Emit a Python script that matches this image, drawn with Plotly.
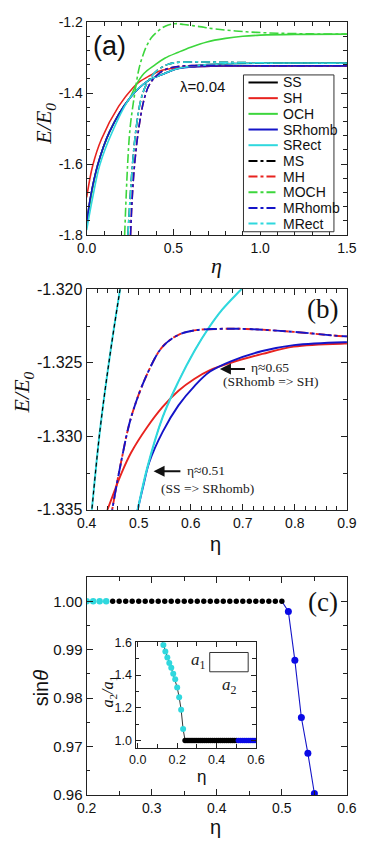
import plotly.graph_objects as go

W, H = 373, 851

# ---------------- panel (a) data ----------------
eta_SS_a = [0.0, 0.022, 0.064, 0.131, 0.249, 0.355, 0.449, 0.498, 0.546, 0.607, 0.697, 0.8, 1.0, 1.2, 1.5]
E_SS_a = [-1.768, -1.694, -1.602, -1.510, -1.414, -1.365, -1.345, -1.335, -1.3287, -1.3242, -1.3200, -1.3175, -1.3160, -1.3156, -1.3155]

eta_SH_a = [0.0, 0.035, 0.085, 0.185, 0.267, 0.30, 0.36, 0.40, 0.44, 0.4855, 0.5158, 0.546, 0.5764, 0.6067, 0.637, 0.677, 0.7376, 0.798, 0.895, 1.1, 1.3, 1.5]
E_SH_a = [-1.694, -1.604, -1.530, -1.437, -1.385, -1.370, -1.352, -1.342, -1.335, -1.3311, -1.3294, -1.3280, -1.3269, -1.3261, -1.3255, -1.3250, -1.3244, -1.3239, -1.3237, -1.3236, -1.3236, -1.3236]

eta_OCH_a = [0.0, 0.064, 0.131, 0.2, 0.249, 0.285, 0.33, 0.39, 0.45, 0.529, 0.6, 0.693, 0.8, 0.9, 1.0, 1.2, 1.5]
E_OCH_a = [-1.768, -1.602, -1.510, -1.448, -1.414, -1.377, -1.345, -1.322, -1.302, -1.285, -1.271, -1.256, -1.246, -1.240, -1.237, -1.2348, -1.2342]

eta_SRhomb_a = [0.0, 0.022, 0.064, 0.131, 0.249, 0.355, 0.449, 0.498, 0.52, 0.546, 0.5764, 0.6067, 0.637, 0.677, 0.7376, 0.798, 0.895, 1.0, 1.2, 1.5]
E_SRhomb_a = [-1.768, -1.694, -1.602, -1.510, -1.414, -1.365, -1.345, -1.335, -1.3318, -1.3297, -1.3279, -1.3266, -1.3256, -1.3249, -1.3242, -1.3238, -1.3236, -1.3235, -1.3234, -1.3234]

eta_SRect_a = [0.0, 0.035, 0.076, 0.149, 0.249, 0.355, 0.449, 0.498, 0.546, 0.607, 0.697, 0.8, 1.0, 1.2, 1.5]
E_SRect_a = [-1.786, -1.694, -1.602, -1.508, -1.414, -1.365, -1.345, -1.335, -1.3287, -1.3242, -1.3200, -1.3175, -1.3160, -1.3156, -1.3155]

eta_MS_a = [0.238, 0.25, 0.264, 0.285, 0.313, 0.34, 0.37, 0.41, 0.443, 0.464, 0.50, 0.55, 0.65, 0.8, 1.0, 1.5]
E_MS_a = [-1.80, -1.70, -1.602, -1.50, -1.418, -1.38, -1.355, -1.335, -1.3249, -1.3200, -1.3150, -1.3130, -1.3124, -1.3135, -1.3150, -1.3158]

eta_MH_a = [0.253, 0.262, 0.276, 0.30, 0.331, 0.36, 0.40, 0.449, 0.4855, 0.5158, 0.546, 0.5764, 0.6067, 0.65, 0.707, 0.8, 0.9, 1.0, 1.2, 1.5]
E_MH_a = [-1.80, -1.70, -1.602, -1.50, -1.418, -1.378, -1.352, -1.335, -1.3287, -1.3258, -1.3239, -1.3231, -1.3228, -1.3227, -1.3227, -1.3229, -1.3232, -1.3234, -1.3236, -1.3236]

eta_MOCH_a = [0.219, 0.236, 0.25, 0.272, 0.30, 0.32, 0.345, 0.375, 0.42, 0.456, 0.51, 0.56, 0.65, 0.74, 0.92, 1.1, 1.3, 1.5]
E_MOCH_a = [-1.80, -1.602, -1.50, -1.418, -1.335, -1.300, -1.268, -1.243, -1.222, -1.211, -1.2047, -1.207, -1.213, -1.2195, -1.2275, -1.2315, -1.2335, -1.2342]

eta_MRhomb_a = eta_MH_a
E_MRhomb_a = E_MH_a
eta_MRect_a = eta_MS_a
E_MRect_a = E_MS_a

# ---------------- panel (b) data ----------------
eta_SS_b = [0.49, 0.498, 0.516, 0.546, 0.576, 0.607, 0.635, 0.66, 0.697, 0.71]
E_SS_b = [-1.3363, -1.3350, -1.3322, -1.3287, -1.3263, -1.3242, -1.3226, -1.3214, -1.3200, -1.3195]

eta_SH_b = [0.435, 0.44, 0.467, 0.4855, 0.5158, 0.546, 0.5764, 0.6067, 0.637, 0.677, 0.7376, 0.798, 0.895, 0.91]
E_SH_b = [-1.3355, -1.3350, -1.3325, -1.3311, -1.3294, -1.3280, -1.3269, -1.3261, -1.3255, -1.3250, -1.3244, -1.3239, -1.3237, -1.3237]

eta_SRhomb_b = [0.49, 0.498, 0.51, 0.52, 0.546, 0.5764, 0.6067, 0.637, 0.677, 0.7376, 0.798, 0.895, 0.91]
E_SRhomb_b = [-1.3363, -1.3350, -1.3332, -1.3318, -1.3297, -1.3279, -1.3266, -1.3256, -1.3249, -1.3242, -1.3238, -1.3236, -1.3236]

eta_SRect_b = eta_SS_b
E_SRect_b = E_SS_b

eta_MS_b = [0.405, 0.4097, 0.4249, 0.4431, 0.4642, 0.47]
E_MS_b = [-1.3368, -1.3351, -1.3298, -1.3249, -1.3200, -1.3188]

eta_MH_b = [0.445, 0.449, 0.467, 0.4855, 0.5158, 0.546, 0.5764, 0.6067, 0.65, 0.707, 0.798, 0.895, 0.91]
E_MH_b = [-1.3358, -1.3350, -1.3316, -1.3287, -1.3258, -1.3239, -1.3231, -1.3228, -1.3227, -1.3227, -1.3229, -1.3232, -1.3232]

eta_MRhomb_b = eta_MH_b
E_MRhomb_b = E_MH_b
eta_MRect_b = eta_MS_b
E_MRect_b = E_MS_b

# ---------------- panel (c) data ----------------
eta_rect_c = [0.20, 0.21, 0.22, 0.23]
sin_rect_c = [1.0, 1.0, 1.0, 1.0]
eta_sq_c = [0.24, 0.25, 0.26, 0.27, 0.28, 0.29, 0.30, 0.31, 0.32, 0.33, 0.34, 0.35, 0.36, 0.37,
            0.38, 0.39, 0.40, 0.41, 0.42, 0.43, 0.44, 0.45, 0.46, 0.47, 0.48, 0.49, 0.50]
sin_sq_c = [1.0, 1.0, 1.0, 1.0, 1.0, 1.0, 1.0, 1.0, 1.0, 1.0, 1.0, 1.0, 1.0, 1.0,
            1.0, 1.0, 1.0, 1.0, 1.0, 1.0, 1.0, 1.0, 1.0, 1.0, 1.0, 1.0, 1.0]
eta_rh_c = [0.51, 0.52, 0.53, 0.54, 0.55]
sin_rh_c = [0.9979, 0.9878, 0.9760, 0.9686, 0.9603]

# inset: aspect ratio a2/a1
eta_rect_in = [0.12, 0.13, 0.14, 0.15, 0.16, 0.17, 0.18, 0.19, 0.20, 0.21, 0.22, 0.23]
ratio_rect_in = [1.624, 1.584, 1.544, 1.508, 1.474, 1.444, 1.408, 1.374, 1.324, 1.264, 1.188, 1.070]
eta_sq_in = eta_sq_c
ratio_sq_in = [1.0, 1.0, 1.0, 1.0, 1.0, 1.0, 1.0, 1.0, 1.0, 1.0, 1.0, 1.0, 1.0, 1.0,
               1.0, 1.0, 1.0, 1.0, 1.0, 1.0, 1.0, 1.0, 1.0, 1.0, 1.0, 1.0, 1.0]
eta_rh_in = [0.51, 0.52, 0.53, 0.54, 0.55, 0.56, 0.57, 0.58, 0.59, 0.60]
ratio_rh_in = [1.0, 1.0, 1.0, 1.0, 1.0, 1.0, 1.0, 1.0, 1.0, 1.0]

# tick labels
yticks_a = [-1.8, -1.6, -1.4, -1.2]
yticktext_a = ["-1.8", "-1.6", "-1.4", "-1.2"]
yticks_b = [-1.335, -1.330, -1.325, -1.320]
yticktext_b = ["-1.335", "-1.330", "-1.325", "-1.320"]

legend_names = ["SS", "SH", "OCH", "SRhomb", "SRect", "MS", "MH", "MOCH", "MRhomb", "MRect"]

# ---------------- styles ----------------
C_K = "#000000"
C_R = "#e8231f"
C_G = "#3cd63c"
C_B = "#1414c8"
C_C = "#2fd8de"
colors = [C_K, C_R, C_G, C_B, C_C, C_K, C_R, C_G, C_B, C_C]
dashes = ["solid"] * 5 + ["dashdot"] * 5

SANS = "Liberation Sans, Arial, sans-serif"
SERIF = "Liberation Serif, Times New Roman, serif"

fig = go.Figure()

# panel (a)
data_a = [(eta_SS_a, E_SS_a), (eta_SH_a, E_SH_a), (eta_OCH_a, E_OCH_a), (eta_SRhomb_a, E_SRhomb_a),
          (eta_SRect_a, E_SRect_a), (eta_MS_a, E_MS_a), (eta_MH_a, E_MH_a), (eta_MOCH_a, E_MOCH_a),
          (eta_MRhomb_a, E_MRhomb_a), (eta_MRect_a, E_MRect_a)]
for name, (xs, ys), col, dsh in zip(legend_names, data_a, colors, dashes):
    fig.add_trace(go.Scatter(x=xs, y=ys, mode="lines", name=name, showlegend=False,
                             line=dict(color=col, width=1.6, dash=dsh, shape="spline", smoothing=1.0),
                             xaxis="x", yaxis="y"))


# panel (b)
def add_b(xs, ys, col, dsh, width=1.9):
    fig.add_trace(go.Scatter(x=xs, y=ys, mode="lines", showlegend=False,
                             line=dict(color=col, width=width, dash=dsh, shape="spline", smoothing=1.0),
                             xaxis="x2", yaxis="y2"))


add_b(eta_SS_b, E_SS_b, C_K, "solid", 1.0)
add_b(eta_SH_b, E_SH_b, C_R, "solid")
add_b(eta_SRhomb_b, E_SRhomb_b, C_B, "solid")
add_b(eta_SRect_b, E_SRect_b, C_C, "solid", 2.1)
add_b(eta_MRect_b, E_MRect_b, C_C, "solid", 2.0)
add_b(eta_MS_b, E_MS_b, C_K, "4px,3px", 1.2)
add_b(eta_MH_b, E_MH_b, C_R, "dashdot", 1.9)
add_b(eta_MRhomb_b, E_MRhomb_b, C_B, "13px,3px,3px,4px", 1.9)

# panel (c)
fig.add_trace(go.Scatter(x=eta_sq_c[-1:] + eta_rh_c, y=sin_sq_c[-1:] + sin_rh_c, mode="lines",
                         showlegend=False, line=dict(color=C_B, width=1.1), xaxis="x3", yaxis="y3"))
fig.add_trace(go.Scatter(x=eta_rect_c, y=sin_rect_c, mode="markers", showlegend=False,
                         marker=dict(color=C_C, size=6.5), xaxis="x3", yaxis="y3"))
fig.add_trace(go.Scatter(x=eta_sq_c, y=sin_sq_c, mode="markers", showlegend=False,
                         marker=dict(color=C_K, size=5.4), xaxis="x3", yaxis="y3"))
fig.add_trace(go.Scatter(x=eta_rh_c, y=sin_rh_c, mode="markers", showlegend=False,
                         marker=dict(color="#0a0ae6", size=7), xaxis="x3", yaxis="y3"))

# inset
fig.add_trace(go.Scatter(x=eta_rect_in + eta_sq_in[:1], y=ratio_rect_in + ratio_sq_in[:1], mode="lines",
                         showlegend=False, line=dict(color="#333333", width=1), xaxis="x4", yaxis="y4"))
fig.add_trace(go.Scatter(x=eta_rect_in, y=ratio_rect_in, mode="markers", showlegend=False,
                         marker=dict(color=C_C, size=6), xaxis="x4", yaxis="y4"))
fig.add_trace(go.Scatter(x=eta_sq_in, y=ratio_sq_in, mode="markers", showlegend=False,
                         marker=dict(color=C_K, size=5.5), xaxis="x4", yaxis="y4"))
fig.add_trace(go.Scatter(x=eta_rh_in, y=ratio_rh_in, mode="markers", showlegend=False,
                         marker=dict(color="#0a0ae6", size=5.5), xaxis="x4", yaxis="y4"))


def px_x(p):
    return p / W


def px_y(p):
    return 1 - p / H


def axis(domain, rng, fsize, minor_dtick, anchor, **kw):
    d = dict(domain=domain, range=rng, anchor=anchor, showline=True, linecolor="#222222", linewidth=1.2,
             mirror="allticks", ticks="inside", ticklen=6, tickwidth=1.2, tickcolor="#222222",
             showgrid=False, zeroline=False, fixedrange=True,
             tickfont=dict(family=SANS, size=fsize, color="#111111"),
             minor=dict(dtick=minor_dtick, ticks="inside", ticklen=3.5, tickwidth=1.0,
                        tickcolor="#222222", showgrid=False))
    d.update(kw)
    return d


XD = [px_x(81), px_x(356)]
fig.update_layout(
    width=W, height=H, autosize=False, margin=dict(l=0, r=0, t=0, b=0),
    paper_bgcolor="white", plot_bgcolor="white",
    xaxis=axis(XD, [0, 1.5], 14, 0.1, "y", dtick=0.5, tick0=0, tickformat=".1f"),
    yaxis=axis([px_y(231.7), px_y(14.3)], [-1.8, -1.2], 14, 0.04, "x", tickmode="array",
               tickvals=yticks_a, ticktext=yticktext_a),
    xaxis2=axis(XD, [0.4, 0.9], 14, 0.02, "y2", dtick=0.1, tick0=0, tickformat=".1f"),
    yaxis2=axis([px_y(512), px_y(287)], [-1.335, -1.320], 16, 0.0025, "x2", tickmode="array",
                tickvals=yticks_b, ticktext=yticktext_b),
    xaxis3=axis(XD, [0.2, 0.6], 14, 0.05, "y3", dtick=0.1, tick0=0, tickformat=".1f"),
    yaxis3=axis([px_y(803), px_y(580.7)], [0.96, 1.005], 15, 0.005, "x3", dtick=0.01, tick0=0,
                tickformat=".2f"),
    xaxis4=axis([px_x(132.7), px_x(260)], [-0.011, 0.6], 12.5, 0.1, "y4", dtick=0.2, tick0=0,
                tickformat=".1f", ticklen=5),
    yaxis4=axis([px_y(755), px_y(647.3)], [0.954, 1.6], 12.5, 0.1, "x4", dtick=0.2, tick0=0,
                tickformat=".1f", ticklen=5),
)

ann = []
shapes = []


def text(px, py, s, size, family=SANS, angle=0, xanchor="center", color="#111111"):
    ann.append(dict(x=px_x(px), y=px_y(py), xref="paper", yref="paper", text=s, showarrow=False,
                    xanchor=xanchor, yanchor="middle", textangle=angle,
                    font=dict(family=family, size=size, color=color)))


# axis titles
text(37, 118, "<i>E/E</i><sub><i>0</i></sub>", 22, SERIF, -90)
text(218, 263, "<i>η</i>", 22, SERIF)
text(14, 392, "<i>E/E</i><sub><i>0</i></sub>", 22, SERIF, -90)
text(217, 547, "η", 20, SANS)
text(33, 694, "sin<i>θ</i>", 20, SANS, -90)
text(217, 836, "η", 20, SANS)
text(104, 697, "<i>a</i><sub>2</sub><i>/a</i><sub>1</sub>", 16, SERIF, -90)
text(202, 784, "η", 17, SANS)

# panel labels
text(105, 39, "(a)", 27, SANS)
text(330, 307, "(b)", 27, SERIF)
text(331, 606, "(c)", 27, SERIF)
text(203, 80, "λ=0.04", 15, SANS)

# legend for panel (a)
shapes.append(dict(type="rect", xref="paper", yref="paper", x0=px_x(246.7), x1=px_x(342.3),
                   y0=px_y(228.3), y1=px_y(68.3), line=dict(color="#333333", width=1),
                   fillcolor="white", layer="above"))
for i, (name, col, dsh) in enumerate(zip(legend_names, colors, dashes)):
    yy = 76 + 16 * i
    shapes.append(dict(type="line", xref="paper", yref="paper", x0=px_x(252), x1=px_x(283),
                       y0=px_y(yy), y1=px_y(yy), line=dict(color=col, width=2, dash=dsh), layer="above"))
    text(286, yy, name, 14, SANS, xanchor="left")

# panel (b) arrows and notes
for tipx, tipy, tailx in [(0.656, -1.32542, 0.707), (0.5285, -1.33238, 0.583)]:
    ann.append(dict(x=tipx, y=tipy, ax=tailx, ay=tipy, xref="x2", yref="y2", axref="x2", ayref="y2",
                    text="", showarrow=True, arrowhead=2, arrowsize=1.1, arrowwidth=2, arrowcolor="#111111"))
for xx, yy, s in [(0.7127, -1.32535, "η≈0.65"), (0.6582, -1.32625, "(SRhomb => SH)"),
                  (0.589, -1.33232, "η≈0.51"), (0.5382, -1.33352, "(SS => SRhomb)")]:
    ann.append(dict(x=xx, y=yy, xref="x2", yref="y2", text=s, showarrow=False, xanchor="left",
                    yanchor="middle", font=dict(family=SERIF, size=13.5, color="#222222")))

# inset sketch of the cell
shapes.append(dict(type="rect", xref="x4", yref="y4", x0=0.365, x1=0.560, y0=1.420, y1=1.538,
                   line=dict(color="#333333", width=1)))
ann.append(dict(x=0.355, y=1.484, xref="x4", yref="y4", text="<i>a</i><sub>1</sub>", showarrow=False,
                xanchor="right", yanchor="middle", font=dict(family=SERIF, size=17, color="#222222")))
ann.append(dict(x=0.466, y=1.334, xref="x4", yref="y4", text="<i>a</i><sub>2</sub>", showarrow=False,
                xanchor="center", yanchor="middle", font=dict(family=SERIF, size=17, color="#222222")))

fig.update_layout(annotations=ann, shapes=shapes)
fig.write_html("out.html", config={"displayModeBar": False})
